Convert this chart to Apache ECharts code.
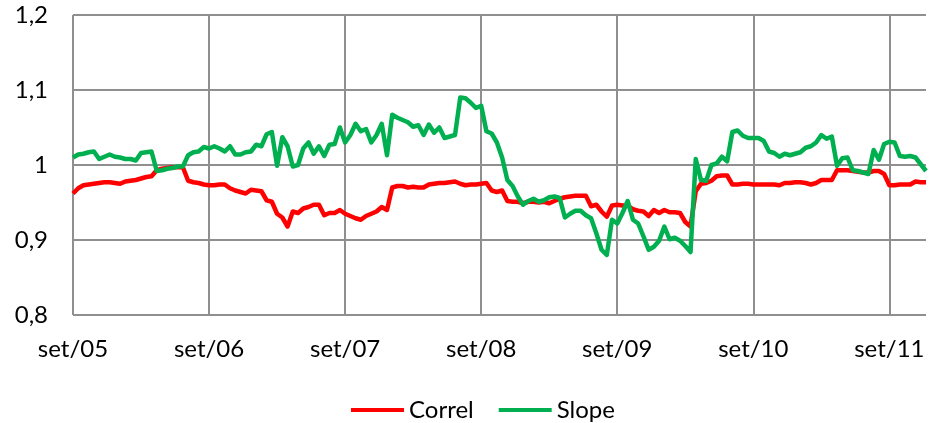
<!DOCTYPE html>
<html>
<head>
<meta charset="utf-8">
<script src="https://cdn.jsdelivr.net/npm/echarts@6/dist/echarts.min.js"></script>
<style>
  html, body { margin: 0; padding: 0; background: #fff; }
  #chart { width: 930px; height: 423px; }
</style>
</head>
<body>
<div id="chart"></div>
<script>
// one point every two weeks, 26 per year, first point = set/05
const tickLabels = ['set/05', 'set/06', 'set/07', 'set/08', 'set/09', 'set/10', 'set/11']
const pointsPerYear = 26

const correl = [
  0.962, 0.969, 0.973, 0.974, 0.975, 0.976, 0.977, 0.977, 0.976, 0.975,
  0.978, 0.979, 0.980, 0.982, 0.984, 0.985, 0.993, 0.995, 0.996, 0.997,
  0.997, 0.997, 0.979, 0.977, 0.976, 0.974, 0.973, 0.973, 0.974, 0.974,
  0.969, 0.966, 0.964, 0.962, 0.967, 0.966, 0.965, 0.953, 0.951, 0.935,
  0.930, 0.918, 0.938, 0.936, 0.942, 0.944, 0.947, 0.947, 0.933, 0.936,
  0.936, 0.940, 0.935, 0.932, 0.929, 0.927, 0.932, 0.935, 0.938, 0.944,
  0.940, 0.970, 0.972, 0.972, 0.970, 0.971, 0.970, 0.970, 0.974, 0.975,
  0.976, 0.976, 0.977, 0.978, 0.975, 0.973, 0.974, 0.974, 0.975, 0.976,
  0.966, 0.964, 0.966, 0.952, 0.951, 0.951, 0.949, 0.951, 0.951, 0.950,
  0.951, 0.949, 0.952, 0.955, 0.957, 0.958, 0.959, 0.959, 0.959, 0.945,
  0.947, 0.938, 0.931, 0.946, 0.947, 0.946, 0.946, 0.941, 0.939, 0.938,
  0.932, 0.940, 0.936, 0.940, 0.937, 0.937, 0.936, 0.924, 0.918, 0.965,
  0.975, 0.976, 0.979, 0.985, 0.986, 0.986, 0.974, 0.974, 0.975, 0.975,
  0.974, 0.974, 0.974, 0.974, 0.974, 0.973, 0.976, 0.976, 0.977, 0.977,
  0.976, 0.974, 0.976, 0.980, 0.980, 0.980, 0.993, 0.993, 0.993, 0.992,
  0.991, 0.990, 0.990, 0.992, 0.992, 0.988, 0.973, 0.973, 0.974, 0.974,
  0.974, 0.978, 0.977, 0.977
]

const slope = [
  1.010, 1.014, 1.015, 1.017, 1.018, 1.008, 1.011, 1.014, 1.011, 1.010,
  1.008, 1.008, 1.006, 1.016, 1.017, 1.018, 0.992, 0.993, 0.995, 0.996,
  0.998, 0.998, 1.013, 1.017, 1.018, 1.024, 1.022, 1.025, 1.022, 1.018,
  1.025, 1.014, 1.014, 1.017, 1.018, 1.027, 1.025, 1.041, 1.044, 0.999,
  1.037, 1.025, 0.998, 1.000, 1.022, 1.030, 1.015, 1.025, 1.012, 1.027,
  1.028, 1.050, 1.030, 1.040, 1.055, 1.045, 1.048, 1.030, 1.040, 1.055,
  1.013, 1.067, 1.063, 1.060, 1.057, 1.051, 1.053, 1.040, 1.054, 1.043,
  1.050, 1.036, 1.038, 1.040, 1.090, 1.089, 1.083, 1.076, 1.079, 1.045,
  1.042, 1.030, 1.010, 0.980, 0.972, 0.958, 0.947, 0.952, 0.955, 0.951,
  0.953, 0.957, 0.958, 0.956, 0.930, 0.935, 0.939, 0.939, 0.933, 0.929,
  0.909, 0.887, 0.880, 0.927, 0.922, 0.936, 0.952, 0.927, 0.922, 0.905,
  0.887, 0.891, 0.899, 0.918, 0.901, 0.903, 0.899, 0.892, 0.884, 1.008,
  0.980, 0.979, 1.000, 1.002, 1.011, 1.005, 1.044, 1.046, 1.039, 1.036,
  1.036, 1.036, 1.032, 1.018, 1.016, 1.011, 1.015, 1.013, 1.015, 1.017,
  1.023, 1.025, 1.030, 1.040, 1.035, 1.038, 0.999, 1.009, 1.010, 0.993,
  0.992, 0.990, 0.988, 1.020, 1.007, 1.028, 1.031, 1.030, 1.012, 1.011,
  1.012, 1.010, 1.001, 0.992
]

const categories = correl.map((_, i) =>
  i % pointsPerYear === 0 ? tickLabels[i / pointsPerYear] : String(i))

const isYearStart = (index) => index % pointsPerYear === 0

const textFont = { fontFamily: 'Lato', fontSize: 24, color: '#000' }

const chart = echarts.init(document.getElementById('chart'))

chart.setOption({
  animation: false,
  backgroundColor: '#fff',
  grid: {
    left: 73,
    right: 4,
    top: 15,
    bottom: 108
  },
  legend: {
    data: ['Correl', 'Slope'],
    top: 393,
    left: 346,
    icon: 'rect',
    itemWidth: 53,
    itemHeight: 4,
    itemGap: 25,
    textStyle: textFont
  },
  xAxis: {
    type: 'category',
    boundaryGap: false,
    data: categories,
    axisLine: { show: false },
    axisTick: { show: false },
    axisLabel: {
      ...textFont,
      margin: 22,
      interval: isYearStart
    },
    splitLine: {
      show: true,
      interval: isYearStart,
      lineStyle: { color: '#8f8f8f', width: 2 }
    }
  },
  yAxis: {
    type: 'value',
    min: 0.8,
    max: 1.2,
    interval: 0.1,
    axisLine: { show: false },
    axisTick: { show: false },
    axisLabel: {
      ...textFont,
      margin: 25,
      formatter: (v) => {
        let s = v.toFixed(1)
        if (s.endsWith('.0')) s = s.slice(0, -2)
        return s.replace('.', ',')
      }
    },
    splitLine: {
      lineStyle: { color: '#8f8f8f', width: 2 }
    }
  },
  series: [
    {
      name: 'Correl',
      type: 'line',
      data: correl,
      symbol: 'none',
      color: '#ff0000',
      lineStyle: { width: 4.5, join: 'round' }
    },
    {
      name: 'Slope',
      type: 'line',
      data: slope,
      symbol: 'none',
      color: '#00b050',
      lineStyle: { width: 4.5, join: 'round' }
    }
  ]
})
</script>
</body>
</html>
